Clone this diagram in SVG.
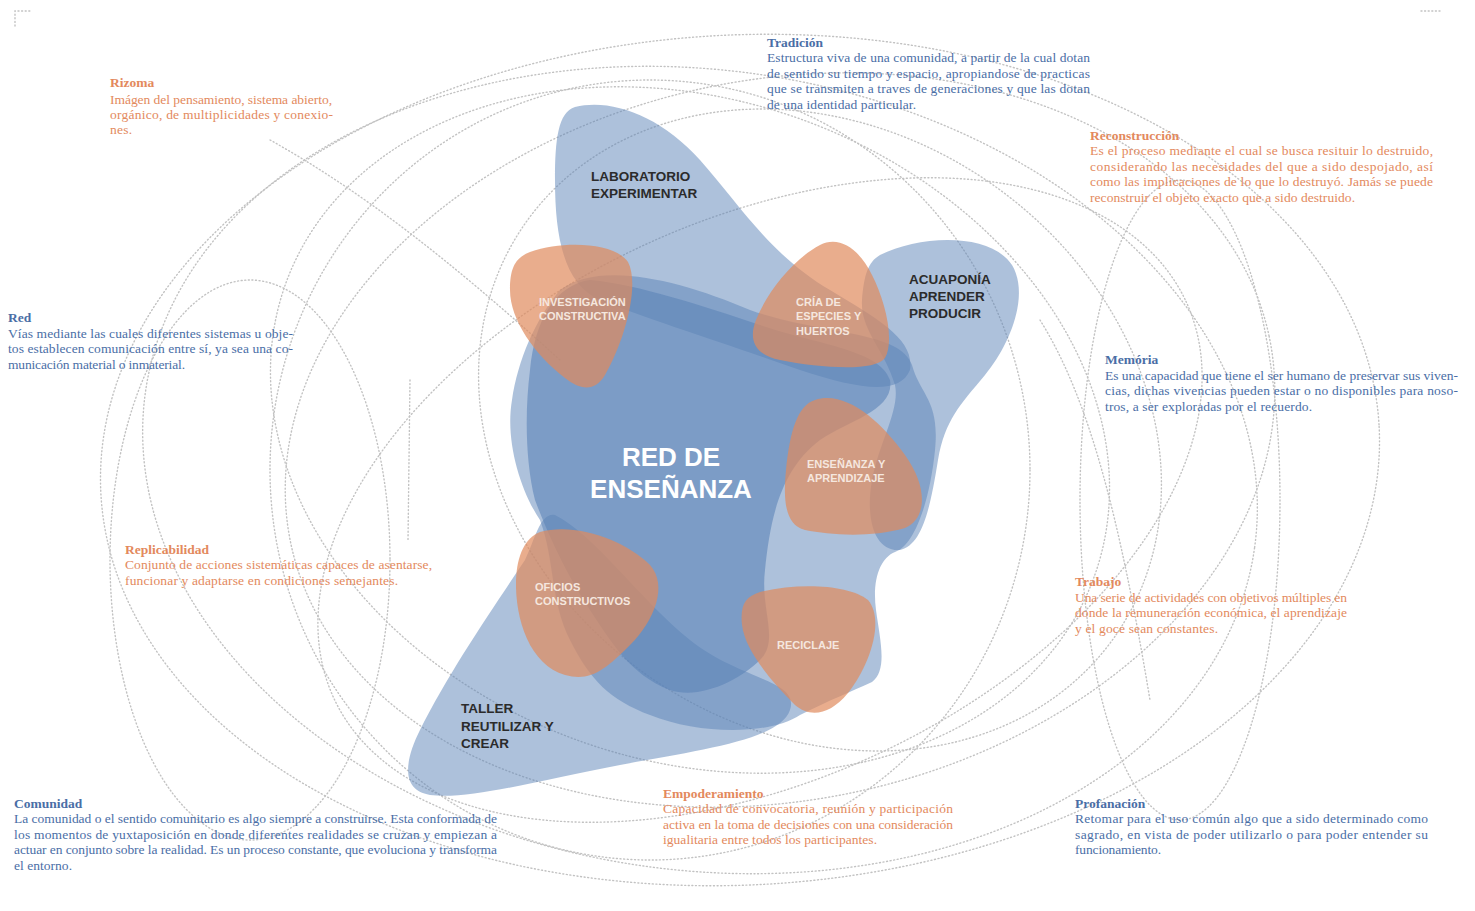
<svg xmlns="http://www.w3.org/2000/svg" width="1475" height="911" viewBox="0 0 1475 911">
  <style>
    .dot { fill: none; stroke: #c2c2c2; stroke-width: 1.4; stroke-dasharray: 1 2.6; stroke-linecap: round; }
    .blue { fill: #5b83b8; fill-opacity: 0.5; }
    .core { fill: #5b83b8; fill-opacity: 0.6; }
    .orange { fill: #e08a5c; fill-opacity: 0.7; }
    .def { font-family: "Liberation Serif", "DejaVu Serif", serif; font-size: 13.5px; }
    .hd { font-weight: bold; }
    .or { fill: #e3895d; }
    .bl { fill: #4a6ea6; }
    .lbl { font-family: "Liberation Sans", Arial, sans-serif; font-weight: bold; font-size: 13.5px; fill: #2b2b2b; }
    .sub { font-family: "Liberation Sans", Arial, sans-serif; font-weight: bold; font-size: 11px; fill: #f5e7df; }
    .main { font-family: "Liberation Sans", Arial, sans-serif; font-weight: bold; font-size: 26px; fill: #ffffff; }
  </style>

  <rect width="1475" height="911" fill="#ffffff"/>

  <!-- corner marks -->
  <g id="marks">
    <path class="dot" d="M15,26 L15,11 L30,11"/>
    <path class="dot" d="M1421,11 L1440,11"/>
  </g>

  <!-- dotted orbits linking the concepts -->
  <g id="connectors">
    <ellipse class="dot" cx="740" cy="460" rx="640" ry="425" transform="rotate(-3 740 460)"/>
    <ellipse class="dot" cx="700" cy="470" rx="560" ry="400" transform="rotate(8 700 470)"/>
    <ellipse class="dot" cx="780" cy="440" rx="500" ry="360" transform="rotate(-12 780 440)"/>
    <ellipse class="dot" cx="690" cy="430" rx="430" ry="330" transform="rotate(20 690 430)"/>
    <ellipse class="dot" cx="760" cy="500" rx="470" ry="280" transform="rotate(-25 760 500)"/>
    <ellipse class="dot" cx="650" cy="470" rx="380" ry="390"/>
    <ellipse class="dot" cx="820" cy="430" rx="360" ry="300" transform="rotate(35 820 430)"/>
    <ellipse class="dot" cx="1180" cy="500" rx="100" ry="320"/>
    <ellipse class="dot" cx="250" cy="560" rx="140" ry="280"/>
    <path class="dot" d="M270,140 C360,190 450,260 560,360"/>
    <path class="dot" d="M410,380 L408,540"/>
    <path class="dot" d="M1040,320 C1090,400 1120,520 1150,700"/>
  </g>

  <!-- light blue fields -->
  <g id="laboratorio">
    <path class="blue" d="M575,107 C610,98 660,115 700,160 C740,205 770,255 830,290 C880,320 915,340 910,370 C900,395 860,390 800,370 C730,345 650,320 600,300 C565,285 555,240 555,180 C555,140 558,112 575,107 Z"/>
    <text class="lbl" x="591" y="181">LABORATORIO</text>
    <text class="lbl" x="591" y="198">EXPERIMENTAR</text>
  </g>

  <g id="acuaponia">
    <path class="blue" d="M880,255 C920,235 990,232 1012,265 C1030,295 1010,345 985,375 C960,405 945,420 938,460 C930,510 922,545 900,550 C875,552 865,520 872,480 C880,440 900,410 895,385 C885,350 860,330 862,300 C864,275 868,262 880,255 Z"/>
    <text class="lbl" x="909" y="284">ACUAPONÍA</text>
    <text class="lbl" x="909" y="301">APRENDER</text>
    <text class="lbl" x="909" y="318">PRODUCIR</text>
  </g>

  <g id="taller">
    <path class="blue" d="M555,515 C595,535 640,600 690,640 C740,680 800,680 790,710 C780,740 700,750 620,765 C540,780 470,800 430,795 C400,790 405,760 420,730 C450,670 495,605 525,560 C535,540 540,512 555,515 Z"/>
    <text class="lbl" x="461" y="713">TALLER</text>
    <text class="lbl" x="461" y="731">REUTILIZAR Y</text>
    <text class="lbl" x="461" y="748">CREAR</text>
  </g>

  <!-- central network -->
  <g id="red">
    <path class="blue" d="M560,290 C600,260 680,280 750,310 C820,335 900,330 912,365 C920,395 940,400 935,450 C930,500 915,545 895,552 C880,558 872,580 876,610 C880,640 888,670 872,682 C850,692 830,700 800,715 C770,735 700,735 650,715 C610,700 590,680 570,640 C550,600 555,560 540,520 C520,490 505,440 512,400 C518,360 535,320 560,290 Z"/>
    <path class="core" d="M590,280 C640,285 700,305 760,325 C820,345 880,350 890,380 C895,410 850,420 820,440 C780,470 770,520 765,570 C760,610 780,640 760,660 C740,680 700,700 670,690 C630,675 610,640 590,610 C570,580 550,540 535,500 C525,460 525,410 530,370 C535,320 555,285 590,280 Z"/>
    <text class="main" x="671" y="466" text-anchor="middle">RED DE</text>
    <text class="main" x="671" y="498" text-anchor="middle">ENSEÑANZA</text>
  </g>

  <!-- activity blobs -->
  <g id="investigacion">
    <path class="orange" d="M530,252 C565,240 615,243 628,262 C640,285 625,340 605,375 C595,392 580,390 565,378 C535,355 510,320 510,290 C510,268 515,258 530,252 Z"/>
    <text class="sub" x="539" y="306">INVESTIGACIÓN</text>
    <text class="sub" x="539" y="320">CONSTRUCTIVA</text>
  </g>

  <g id="cria">
    <path class="orange" d="M820,245 C840,235 860,250 872,275 C885,300 895,340 885,358 C875,372 820,368 780,360 C755,355 748,340 756,320 C768,290 795,258 820,245 Z"/>
    <text class="sub" x="796" y="306">CRÍA DE</text>
    <text class="sub" x="796" y="320">ESPECIES Y</text>
    <text class="sub" x="796" y="335">HUERTOS</text>
  </g>

  <g id="ensenanza">
    <path class="orange" d="M815,400 C845,390 880,420 905,455 C930,490 925,520 905,528 C870,538 830,535 805,530 C785,525 783,500 786,470 C790,430 798,405 815,400 Z"/>
    <text class="sub" x="807" y="468">ENSEÑANZA Y</text>
    <text class="sub" x="807" y="482">APRENDIZAJE</text>
  </g>

  <g id="oficios">
    <path class="orange" d="M540,532 C575,522 625,540 650,565 C668,585 655,620 630,645 C605,670 590,682 565,675 C530,665 515,620 516,580 C517,555 525,538 540,532 Z"/>
    <text class="sub" x="535" y="591">OFICIOS</text>
    <text class="sub" x="535" y="605">CONSTRUCTIVOS</text>
  </g>

  <g id="reciclaje">
    <path class="orange" d="M760,592 C800,582 850,585 868,600 C885,620 870,665 848,693 C830,715 810,718 795,705 C770,680 745,650 742,625 C740,605 745,597 760,592 Z"/>
    <text class="sub" x="777" y="649">RECICLAJE</text>
  </g>

  <!-- concept definitions -->
  <g id="rizoma" class="def or">
    <text class="hd" x="110" y="87">Rizoma</text>
    <text x="110" y="104" textLength="222" lengthAdjust="spacing">Imágen del pensamiento, sistema abierto,</text>
    <text x="110" y="119" textLength="223" lengthAdjust="spacing">orgánico, de multiplicidades y conexio-</text>
    <text x="110" y="134" textLength="22" lengthAdjust="spacing">nes.</text>
  </g>

  <g id="tradicion" class="def bl">
    <text class="hd" x="767" y="47">Tradición</text>
    <text x="767" y="62" textLength="323" lengthAdjust="spacing">Estructura viva de una comunidad, a partir de la cual dotan</text>
    <text x="767" y="78" textLength="323" lengthAdjust="spacing">de sentido su tiempo y espacio, apropiandose de practicas</text>
    <text x="767" y="93" textLength="323" lengthAdjust="spacing">que se transmiten a traves de generaciones y que las dotan</text>
    <text x="767" y="109" textLength="149" lengthAdjust="spacing">de una identidad particular.</text>
  </g>

  <g id="reconstruccion" class="def or">
    <text class="hd" x="1090" y="140">Reconstrucción</text>
    <text x="1090" y="155" textLength="343" lengthAdjust="spacing">Es el proceso mediante el cual se busca resituir lo destruido,</text>
    <text x="1090" y="171" textLength="343" lengthAdjust="spacing">considerando las necesidades del que a sido despojado, así</text>
    <text x="1090" y="186" textLength="343" lengthAdjust="spacing">como las implicaciones de lo que lo destruyó.  Jamás se puede</text>
    <text x="1090" y="202" textLength="265" lengthAdjust="spacing">reconstruir el objeto exacto que a sido destruido.</text>
  </g>

  <g id="red-def" class="def bl">
    <text class="hd" x="8" y="322">Red</text>
    <text x="8" y="338" textLength="285" lengthAdjust="spacing">Vías mediante las cuales diferentes sistemas u obje-</text>
    <text x="8" y="353" textLength="285" lengthAdjust="spacing">tos establecen comunicación entre sí, ya sea una co-</text>
    <text x="8" y="369" textLength="177" lengthAdjust="spacing">municación material o inmaterial.</text>
  </g>

  <g id="memoria" class="def bl">
    <text class="hd" x="1105" y="364">Memória</text>
    <text x="1105" y="380" textLength="353" lengthAdjust="spacing">Es una capacidad que tiene el ser humano de preservar sus viven-</text>
    <text x="1105" y="395" textLength="353" lengthAdjust="spacing">cias, dichas vivencias pueden estar o no disponibles para noso-</text>
    <text x="1105" y="411" textLength="207" lengthAdjust="spacing">tros, a ser exploradas por el recuerdo.</text>
  </g>

  <g id="replicabilidad" class="def or">
    <text class="hd" x="125" y="554">Replicabilidad</text>
    <text x="125" y="569" textLength="307" lengthAdjust="spacing">Conjunto de acciones sistemáticas capaces de asentarse,</text>
    <text x="125" y="585" textLength="273" lengthAdjust="spacing">funcionar y adaptarse en condiciones semejantes.</text>
  </g>

  <g id="trabajo" class="def or">
    <text class="hd" x="1075" y="586">Trabajo</text>
    <text x="1075" y="602" textLength="272" lengthAdjust="spacing">Una serie de actividades con objetivos múltiples en</text>
    <text x="1075" y="617" textLength="272" lengthAdjust="spacing">donde la remuneración económica, el aprendizaje</text>
    <text x="1075" y="633" textLength="143" lengthAdjust="spacing">y  el goce sean constantes.</text>
  </g>

  <g id="comunidad" class="def bl">
    <text class="hd" x="14" y="808">Comunidad</text>
    <text x="14" y="823" textLength="483" lengthAdjust="spacing">La comunidad o el sentido comunitario es algo siempre a construirse. Esta conformada de</text>
    <text x="14" y="839" textLength="483" lengthAdjust="spacing">los momentos de yuxtaposición en donde diferentes realidades se cruzan y empiezan a</text>
    <text x="14" y="854" textLength="483" lengthAdjust="spacing">actuar en conjunto sobre la realidad. Es un proceso constante, que evoluciona y transforma</text>
    <text x="14" y="870" textLength="58" lengthAdjust="spacing">el entorno.</text>
  </g>

  <g id="empoderamiento" class="def or">
    <text class="hd" x="663" y="798">Empoderamiento</text>
    <text x="663" y="813" textLength="290" lengthAdjust="spacing">Capacidad de convocatoria, reunión y participación</text>
    <text x="663" y="829" textLength="290" lengthAdjust="spacing">activa en la toma de decisiones con una consideración</text>
    <text x="663" y="844" textLength="214" lengthAdjust="spacing">igualitaria entre todos los participantes.</text>
  </g>

  <g id="profanacion" class="def bl">
    <text class="hd" x="1075" y="808">Profanación</text>
    <text x="1075" y="823" textLength="353" lengthAdjust="spacing">Retomar para el uso común algo que a sido determinado como</text>
    <text x="1075" y="839" textLength="353" lengthAdjust="spacing">sagrado, en vista de poder utilizarlo o para poder entender su</text>
    <text x="1075" y="854" textLength="86" lengthAdjust="spacing">funcionamiento.</text>
  </g>
</svg>
